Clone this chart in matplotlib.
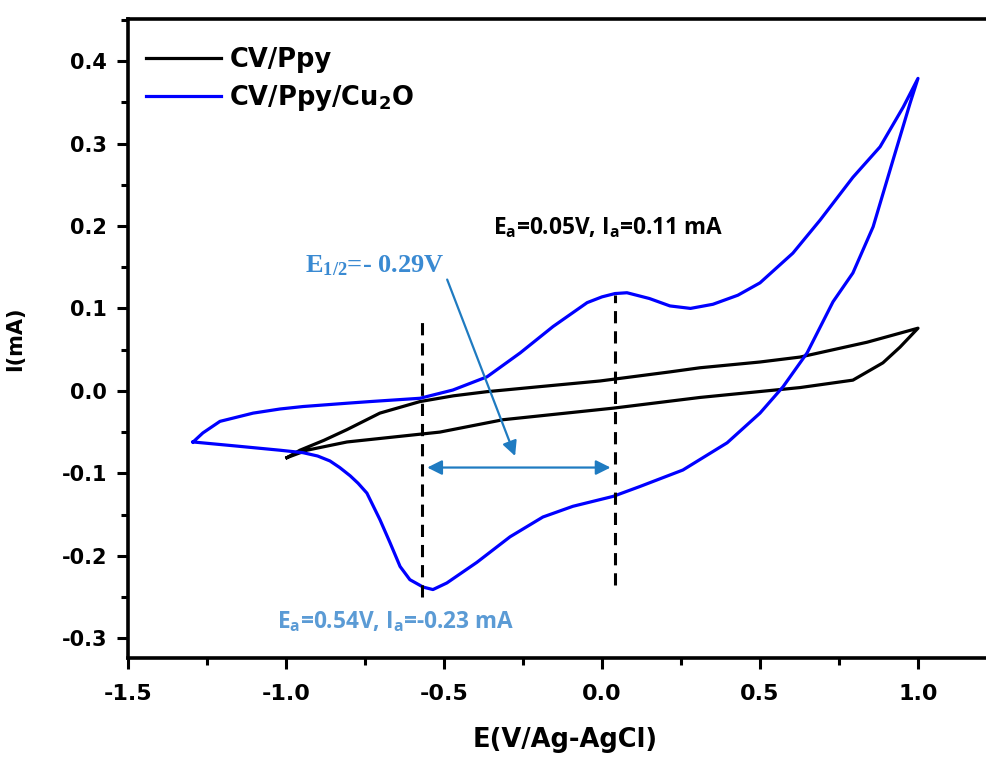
import numpy as np
import matplotlib
matplotlib.use('Agg')
import matplotlib.pyplot as plt
from matplotlib.ticker import MultipleLocator

# CV/Ppy/Cu2O: anodic sweep then cathodic sweep (E in V, I in mA)
cu_fwd_E = [-1.294, -1.263, -1.209, -1.104, -1.019, -0.946, -0.807, -0.734, -0.576, -0.472,
			-0.364, -0.259, -0.155, -0.047, 0.0, 0.041, 0.079, 0.15, 0.215, 0.28, 0.351,
			0.43, 0.5, 0.604, 0.690, 0.794, 0.880, 0.953, 1.0]
cu_fwd_I = [-0.062, -0.051, -0.037, -0.027, -0.022, -0.019, -0.015, -0.013, -0.009, 0.001,
			0.017, 0.046, 0.078, 0.107, 0.114, 0.118, 0.119, 0.112, 0.103, 0.100, 0.105,
			0.116, 0.131, 0.167, 0.207, 0.259, 0.296, 0.344, 0.379]
cu_rev_E = [1.0, 0.975, 0.921, 0.858, 0.794, 0.731, 0.649, 0.573, 0.5, 0.396,
			0.256, 0.120, 0.035, -0.092, -0.187, -0.291, -0.396, -0.491, -0.535, -0.566,
			-0.608, -0.639, -0.671, -0.703, -0.744, -0.772, -0.797, -0.83, -0.861, -0.90,
			-0.946, -1.019, -1.155, -1.294]
cu_rev_I = [0.379, 0.349, 0.28, 0.199, 0.143, 0.108, 0.046, 0.005, -0.027, -0.063,
			-0.096, -0.116, -0.128, -0.14, -0.153, -0.177, -0.208, -0.233, -0.241, -0.238,
			-0.229, -0.213, -0.184, -0.156, -0.124, -0.112, -0.103, -0.093, -0.085, -0.079,
			-0.075, -0.072, -0.067, -0.062]

# CV/Ppy
ppy_fwd_E = [-0.997, -0.956, -0.88, -0.807, -0.703, -0.576, -0.47, -0.364, -0.2, -0.006,
			 0.215, 0.310, 0.5, 0.627, 0.839, 1.0]
ppy_fwd_I = [-0.081, -0.072, -0.06, -0.047, -0.027, -0.013, -0.006, -0.001, 0.005, 0.012,
			 0.023, 0.028, 0.035, 0.041, 0.059, 0.076]
ppy_rev_E = [1.0, 0.943, 0.889, 0.794, 0.627, 0.310, 0.035, -0.313, -0.513, -0.807, -0.934, -0.997]
ppy_rev_I = [0.076, 0.053, 0.034, 0.013, 0.004, -0.008, -0.021, -0.035, -0.05, -0.062, -0.072, -0.081]

# peak potentials marked with dashed lines
peak_E = [-0.57, 0.041]
peak_top = [0.09, 0.116]
peak_bottom = [-0.25, -0.235]

x_ticks = [-1.5, -1.0, -0.5, 0.0, 0.5, 1.0]
x_ticklabels = ['-1.5', '-1.0', '-0.5', '0.0', '0.5', '1.0']

plt.rcParams['axes.unicode_minus'] = False
plt.rcParams['mathtext.fontset'] = 'custom'
plt.rcParams['mathtext.rm'] = 'DejaVu Sans:bold'
plt.rcParams['mathtext.sf'] = 'Open Sans:bold'
plt.rcParams['mathtext.cal'] = 'Liberation Serif:bold'

fig = plt.figure(figsize=(9.87, 7.58), dpi=100)
# x range runs past the right edge of the figure, so the right spine is cut off
ax = fig.add_axes([128/987, 100/758, 3*316/987, 639/758])

ppy_E = ppy_fwd_E + ppy_rev_E
ppy_I = ppy_fwd_I + ppy_rev_I
cu_E = cu_fwd_E + cu_rev_E
cu_I = cu_fwd_I + cu_rev_I

ax.plot(ppy_E, ppy_I, color='black', lw=2.3, label='CV/Ppy', solid_joinstyle='round')
ax.plot(cu_E, cu_I, color='#0000ff', lw=2.3, label='CV/Ppy/Cu$_2$O', solid_joinstyle='round')

for e, t, b in zip(peak_E, peak_top, peak_bottom):
	ax.plot([e, e], [b, t], color='black', lw=2.2, ls=(0, (4, 2.6)))

ax.set_xlim(-1.5, 1.5)
ax.set_ylim(-0.324, 0.451)

ax.set_xticks(x_ticks)
ax.set_xticklabels(x_ticklabels)
ax.xaxis.set_minor_locator(MultipleLocator(0.25))
ax.yaxis.set_major_locator(MultipleLocator(0.1))
ax.yaxis.set_minor_locator(MultipleLocator(0.05))
ax.tick_params(which='both', direction='out', width=2.2, top=False, right=False)
ax.tick_params(which='major', length=8)
ax.tick_params(which='minor', length=5)
for s in ax.spines.values():
	s.set_linewidth(2.6)

for lab in ax.get_xticklabels():
	lab.set_fontfamily('DejaVu Sans')
	lab.set_fontweight('bold')
	lab.set_fontsize(16)
for lab in ax.get_yticklabels():
	lab.set_fontfamily('DejaVu Sans')
	lab.set_fontweight('bold')
	lab.set_fontsize(15)
ax.tick_params(axis='x', pad=11)
ax.tick_params(axis='y', pad=7)

ax.set_xlabel('E(V/Ag-AgCl)', family='DejaVu Sans', fontweight='bold', fontsize=18.5)
ax.xaxis.set_label_coords((565 - 128) / (3*316), -0.108)
ax.set_ylabel('I(mA)', family='DejaVu Sans', fontweight='bold', fontsize=15)
ax.yaxis.set_label_coords(-0.108, 0.5)

leg = ax.legend(loc='upper left', frameon=False, handlelength=2.9, handletextpad=0.35,
				labelspacing=0.4, borderaxespad=0.3, bbox_to_anchor=(0.0, 0.985),
				prop={'family': 'DejaVu Sans', 'weight': 'bold', 'size': 18.5})

# annotations
ax.text(-0.345, 0.198, r'$\mathsf{E_a}$=0.05V, $\mathsf{I_a}$=0.11 mA', family='Open Sans',
		fontweight='bold', fontsize=16.3, color='black', va='center')
ax.text(-0.94, 0.152, r'$\mathcal{E_{1/2}}$=- 0.29V', family='Liberation Serif',
		fontweight='bold', fontsize=19, color='#3a8ad2', va='center')
ax.text(-1.028, -0.280, r'$\mathsf{E_a}$=0.54V, $\mathsf{I_a}$=-0.23 mA', family='Open Sans',
		fontweight='bold', fontsize=16.3, color='#5b9bd5', va='center')

ax.annotate('', xy=(-0.275, -0.079), xytext=(-0.49, 0.135),
			arrowprops=dict(arrowstyle='-|>', color='#1f7bc1', lw=1.6, mutation_scale=22,
							shrinkA=0, shrinkB=0))
ax.annotate('', xy=(-0.553, -0.093), xytext=(0.027, -0.093),
			arrowprops=dict(arrowstyle='<|-|>', color='#1f7bc1', lw=1.6, mutation_scale=22,
							shrinkA=0, shrinkB=0))

fig.savefig('out.png', dpi=100)
